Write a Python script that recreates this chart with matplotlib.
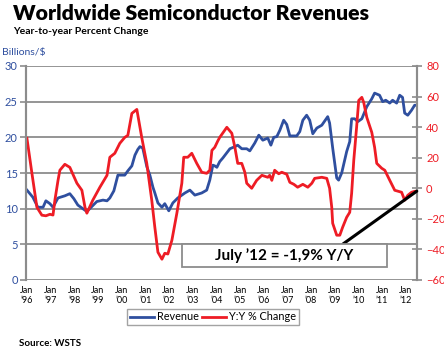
import matplotlib
matplotlib.use("Agg")
import matplotlib.pyplot as plt
from matplotlib.patches import Rectangle

plt.rcParams['font.family'] = ['Lato', 'DejaVu Sans']

# revenue, billions of $ (decimal year, value)
rev_x = [1996.00, 1996.25, 1996.46, 1996.68, 1996.80, 1996.97, 1997.10, 1997.31, 1997.60, 1997.81,
         1997.98, 1998.15, 1998.36, 1998.53, 1998.74, 1998.95, 1999.21, 1999.38, 1999.50, 1999.67,
         1999.84, 2000.13, 2000.26, 2000.43, 2000.56, 2000.68, 2000.77, 2000.89, 2001.06, 2001.19,
         2001.32, 2001.40, 2001.53, 2001.70, 2001.82, 2001.99, 2002.16, 2002.37, 2002.67, 2002.88,
         2003.09, 2003.38, 2003.59, 2003.72, 2003.85, 2003.93, 2004.02, 2004.14, 2004.27, 2004.57,
         2004.78, 2004.90, 2005.07, 2005.28, 2005.41, 2005.62, 2005.79, 2005.96, 2006.17, 2006.30,
         2006.42, 2006.55, 2006.68, 2006.84, 2006.97, 2007.10, 2007.39, 2007.52, 2007.65, 2007.81,
         2007.94, 2008.07, 2008.24, 2008.45, 2008.70, 2008.78, 2008.91, 2009.08, 2009.16, 2009.29,
         2009.50, 2009.63, 2009.71, 2009.84, 2009.97, 2010.14, 2010.35, 2010.56, 2010.68, 2010.89,
         2011.02, 2011.15, 2011.32, 2011.44, 2011.61, 2011.74, 2011.86, 2011.95, 2012.08, 2012.24,
         2012.37, 2012.46]
rev_y = [12.6, 11.6, 10.2, 10.2, 11.1, 10.7, 10.2, 11.5, 11.8, 12.1,
         11.4, 10.5, 10.0, 9.6, 10.3, 11.0, 11.2, 11.1, 11.5, 12.5,
         14.7, 14.7, 15.3, 16.0, 17.5, 18.3, 18.7, 18.5, 15.9, 14.7,
         13.0, 12.2, 10.8, 10.2, 10.7, 9.7, 10.8, 11.5, 12.2, 12.6,
         11.9, 12.2, 12.6, 14.0, 16.1, 16.0, 15.8, 16.6, 17.1, 18.4,
         18.7, 18.9, 18.4, 18.4, 18.1, 19.2, 20.3, 19.6, 19.9, 18.9,
         20.0, 20.1, 21.0, 22.4, 21.8, 20.2, 20.2, 20.8, 22.4, 23.1,
         22.4, 20.5, 21.3, 21.7, 22.9, 22.0, 18.5, 14.3, 14.0, 15.0,
         18.0, 19.4, 22.6, 22.6, 22.2, 22.6, 24.3, 25.4, 26.2, 25.9,
         25.0, 25.2, 24.8, 25.2, 24.8, 25.9, 25.6, 23.4, 23.1, 23.8,
         24.5, 24.5]

# year-to-year percent change
yoy_x = [1996.00, 1996.21, 1996.42, 1996.63, 1996.80, 1996.97, 1997.10, 1997.18, 1997.31, 1997.39,
         1997.60, 1997.81, 1998.11, 1998.32, 1998.45, 1998.53, 1998.78, 1999.08, 1999.38, 1999.50,
         1999.71, 1999.92, 2000.13, 2000.26, 2000.43, 2000.64, 2000.85, 2001.06, 2001.27, 2001.40,
         2001.53, 2001.70, 2001.82, 2001.95, 2002.12, 2002.33, 2002.54, 2002.62, 2002.79, 2002.96,
         2003.17, 2003.38, 2003.59, 2003.72, 2003.81, 2003.93, 2004.06, 2004.14, 2004.44, 2004.65,
         2004.78, 2004.90, 2005.07, 2005.20, 2005.28, 2005.49, 2005.70, 2005.92, 2006.17, 2006.25,
         2006.34, 2006.46, 2006.63, 2006.76, 2006.97, 2007.10, 2007.27, 2007.43, 2007.65, 2007.86,
         2008.03, 2008.15, 2008.45, 2008.66, 2008.78, 2008.87, 2008.91, 2009.08, 2009.21, 2009.33,
         2009.50, 2009.63, 2009.71, 2009.80, 2009.92, 2010.01, 2010.14, 2010.22, 2010.35, 2010.56,
         2010.68, 2010.77, 2010.98, 2011.11, 2011.32, 2011.53, 2011.82, 2011.95, 2012.08, 2012.24,
         2012.37, 2012.46]
yoy_y = [32.7, 9.8, -12.4, -17.6, -18.0, -17.0, -17.5, -7.8, 5.0, 11.8,
         15.7, 13.7, 3.3, -1.3, -12.4, -16.3, -7.8, 0.7, 8.5, 20.3,
         22.9, 29.4, 33.3, 34.6, 49.0, 51.6, 33.0, 16.3, -7.8, -25.5,
         -41.8, -46.4, -42.5, -43.0, -34.0, -16.3, 3.3, 20.3, 20.3, 22.9,
         16.3, 10.5, 9.8, 11.8, 24.8, 26.8, 31.0, 33.3, 39.9, 36.0,
         26.8, 16.3, 16.3, 10.5, 3.3, 0.0, 5.2, 8.5, 7.2, 8.5,
         5.2, 11.8, 9.5, 10.5, 9.2, 3.9, 2.6, 0.7, 2.6, 0.7,
         3.3, 6.5, 7.2, 6.5, 0.0, -12.4, -22.9, -30.7, -30.7, -25.5,
         -19.0, -15.7, -3.3, 18.3, 40.0, 57.5, 59.5, 56.2, 46.4, 36.6,
         26.8, 16.3, 13.1, 11.8, 5.2, -1.3, -2.6, -7.8, -4.6, -2.6,
         -2.0, -1.9]

years = list(range(1996, 2013))
year_labels = ["Jan\n\u2019%02d" % (y % 100) for y in years]

blue = "#2f4f9f"
red = "#ee1c25"
grey = "#8c8c8c"

W, H = 444, 350
fig = plt.figure(figsize=(4.44, 3.5), dpi=100)
ax = fig.add_axes([26 / W, 70 / H, 391 / W, 214 / H])
ax2 = ax.twinx()

l1, = ax.plot(rev_x, rev_y, color=blue, lw=2.0, label="Revenue")
l2, = ax2.plot(yoy_x, yoy_y, color=red, lw=2.0, label="Y:Y % Change")

ax.set_xlim(1995.96, 2012.47)
ax.set_ylim(0, 30)
ax2.set_ylim(-60, 80)
ax.set_yticks(range(0, 31, 5))
ax2.set_yticks(range(-60, 81, 20))
ax.set_xticks(years)
ax.set_xticklabels(year_labels)

ax.yaxis.grid(True, color=grey, lw=1.3)
ax.set_axisbelow(True)
for a in (ax, ax2):
    a.spines["top"].set_visible(False)
    a.spines["bottom"].set_visible(False)
    a.spines["left"].set_color(grey)
    a.spines["right"].set_color(grey)
    a.spines["left"].set_linewidth(1.5)
    a.spines["right"].set_linewidth(1.5)

ax.tick_params(axis="y", colors=grey, labelcolor=blue, labelsize=8, length=4, width=1.2, pad=2)
ax.tick_params(axis="x", length=0, labelsize=6.5, pad=4)
ax2.tick_params(axis="y", colors=grey, labelcolor=red, labelsize=8, direction="inout",
                length=7, width=1.2, pad=3)

# callout box for last value
box = Rectangle((182 / W, 1 - 267 / H), 205 / W, 23 / H, transform=fig.transFigure,
                fc="white", ec=grey, lw=1.3, zorder=5)
fig.patches.append(box)
fig.text(284 / W, 1 - 256 / H, "July \u201912 = -1,9% Y/Y", fontsize=11, fontweight="bold",
         ha="center", va="center", zorder=6)
ax2.annotate("", xy=(yoy_x[-1], yoy_y[-1]), xytext=(343 / W, 1 - 244 / H),
             textcoords="figure fraction",
             arrowprops=dict(arrowstyle="-", color="black", lw=2.2, shrinkA=0, shrinkB=0))

fig.legend(handles=[l1, l2], loc="center", bbox_to_anchor=(213 / W, 1 - 317 / H), ncol=2,
           fontsize=7.8, frameon=True, fancybox=False, edgecolor=grey, handlelength=2.2,
           handletextpad=0.3, columnspacing=0.3, borderpad=0.25)

fig.text(13 / W, 1 - 14 / H, "Worldwide Semiconductor Revenues", fontsize=15.3,
         fontweight="heavy", va="center", ha="left")
fig.text(13 / W, 1 - 31 / H, "Year-to-year Percent Change", fontsize=7.5,
         fontweight="bold", va="center", ha="left")
fig.text(2 / W, 1 - 53 / H, "Billions/$", fontsize=7.5, color=blue, va="center", ha="left")
fig.text(19 / W, 1 - 343 / H, "Source: WSTS", fontsize=7, fontweight="bold",
         va="center", ha="left")

fig.savefig("out.png", dpi=100)
